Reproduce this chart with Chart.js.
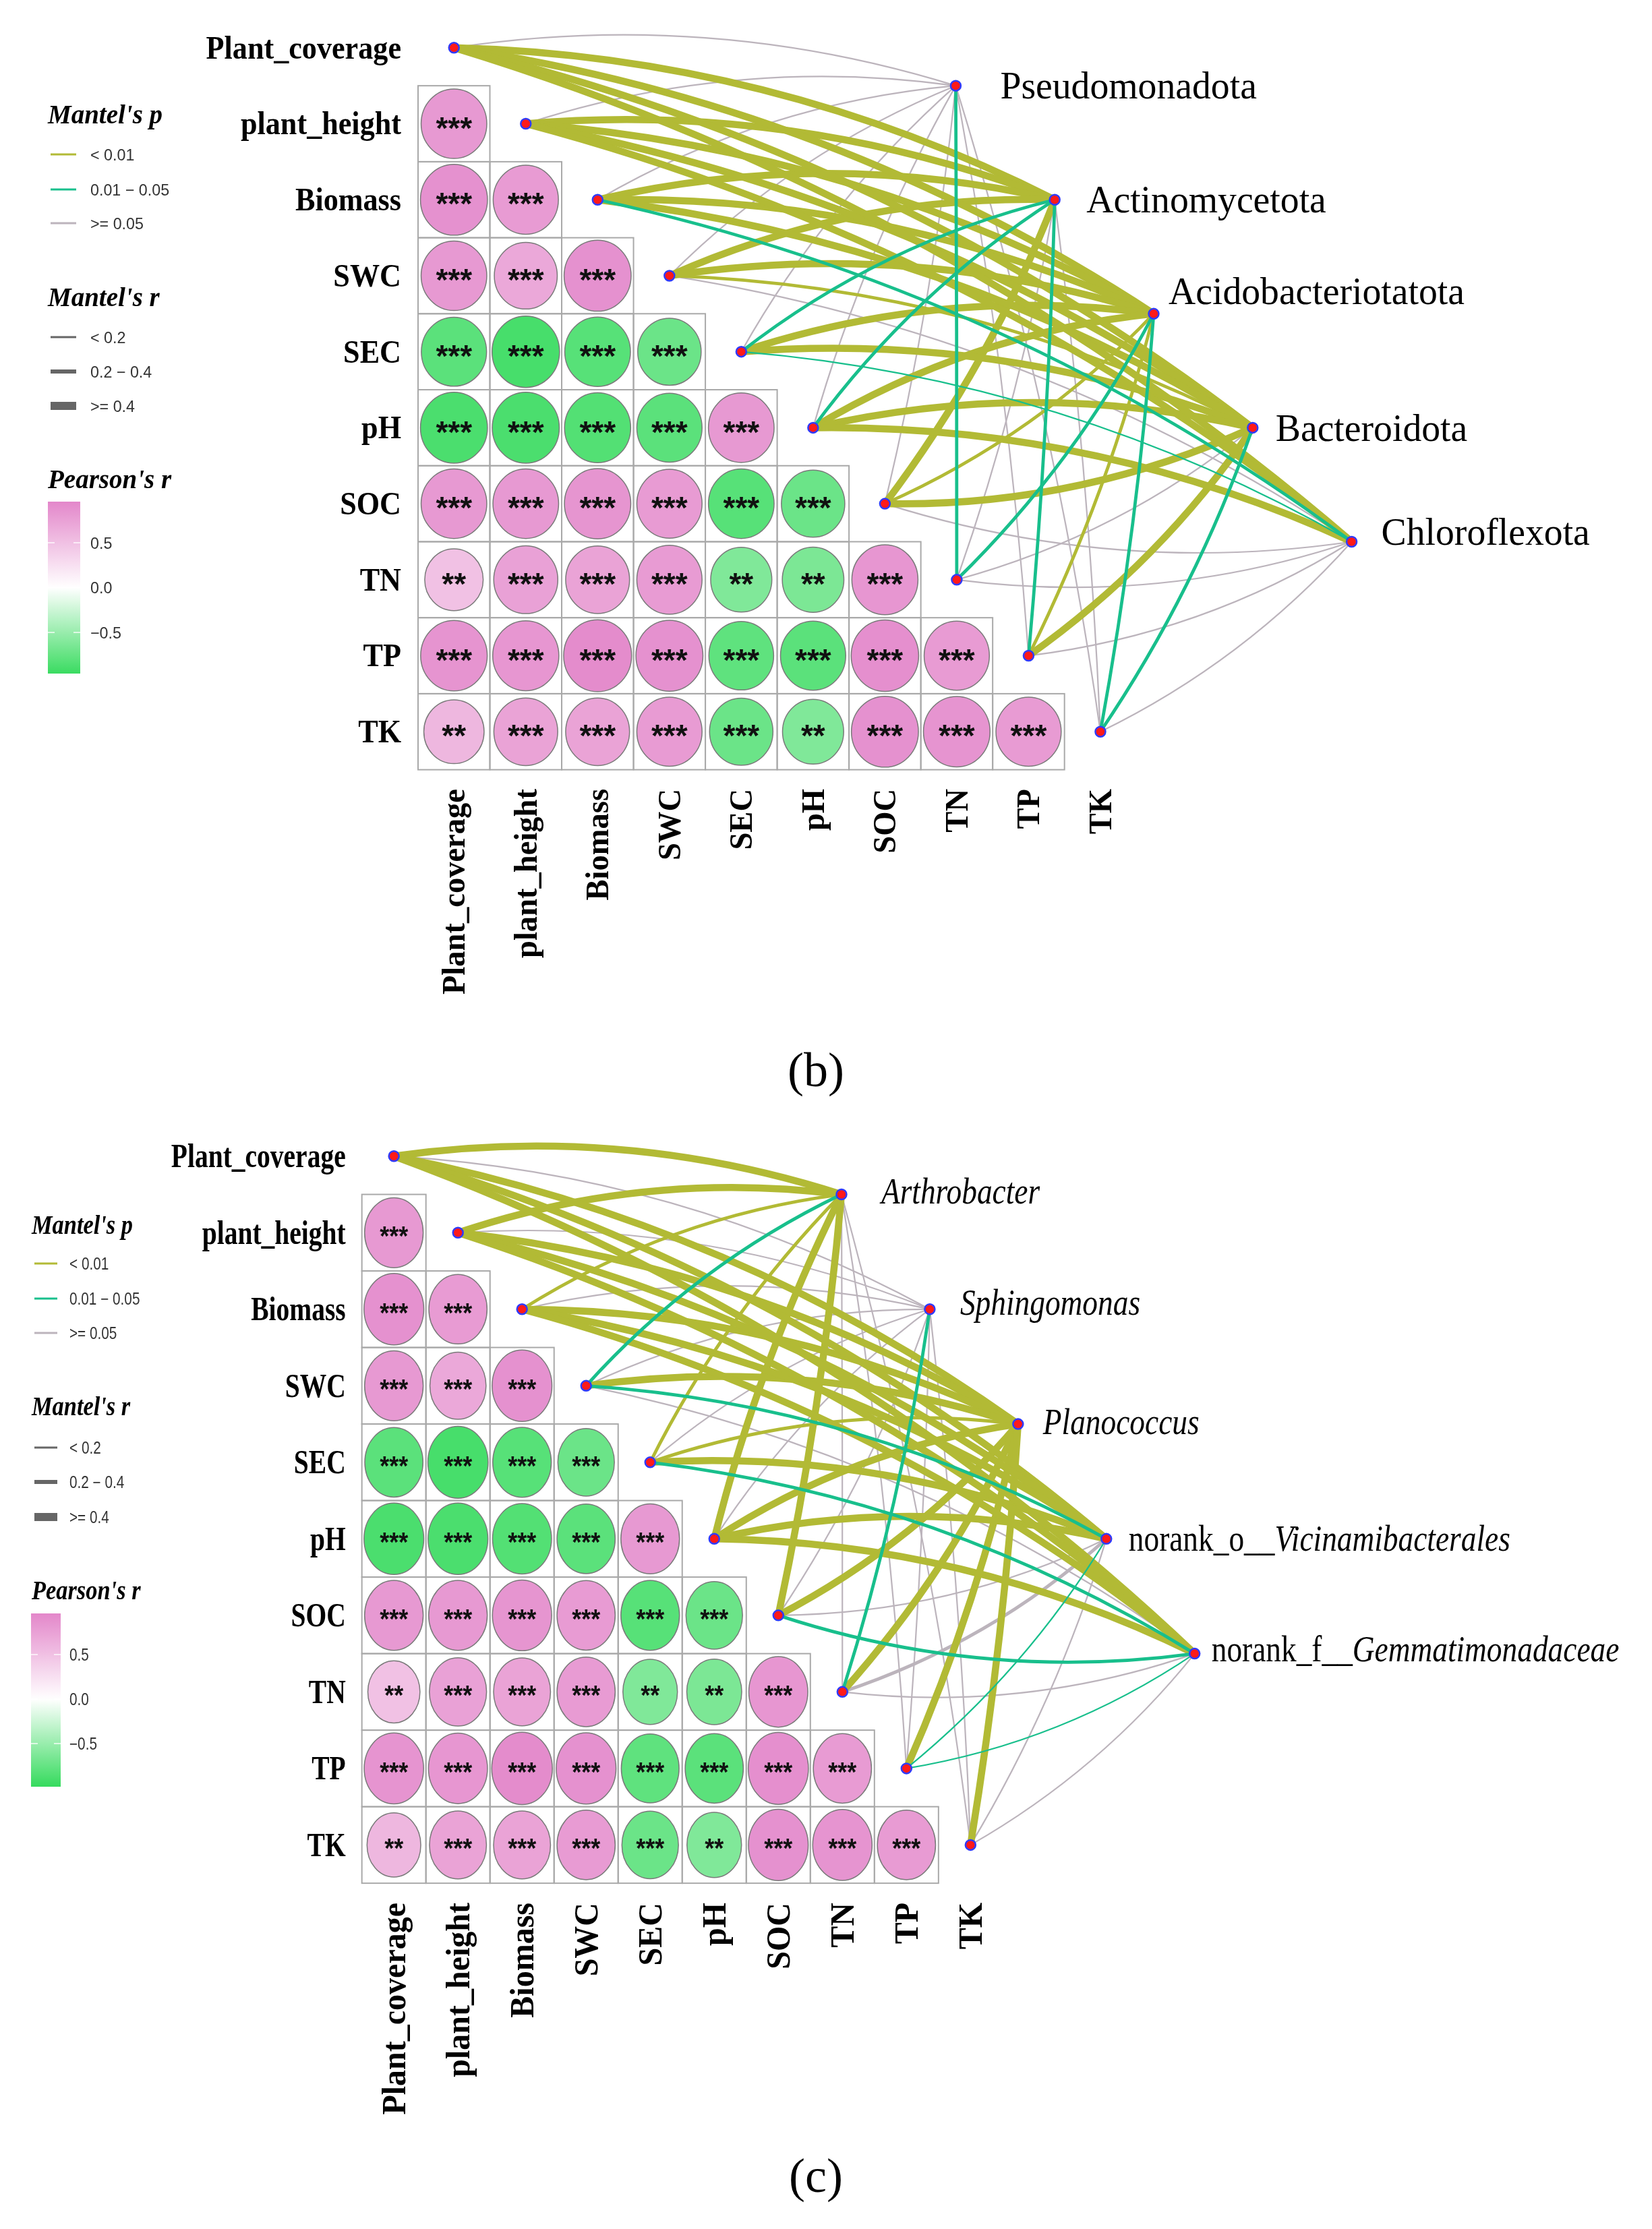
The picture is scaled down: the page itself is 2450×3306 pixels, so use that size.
<!DOCTYPE html>
<html><head><meta charset="utf-8">
<script src="https://cdn.jsdelivr.net/npm/chart.js@4.4.1/dist/chart.umd.min.js"></script>
<style>
html,body{margin:0;padding:0;background:#fff;}
#wrap{position:relative;width:2450px;height:3306px;background:#fff;}
canvas{position:absolute;left:0;}
</style></head><body>
<div id="wrap">
<canvas id="c1" width="2450" height="1650" style="top:0px;width:2450px;height:1650px"></canvas>
<canvas id="c2" width="2450" height="1656" style="top:1650px;width:2450px;height:1656px"></canvas>
</div>
<script>
// ---------------- DATA ----------------
const envVars = ['Plant_coverage','plant_height','Biomass','SWC','SEC','pH','SOC','TN','TP','TK'];
const taxaB = ['Pseudomonadota','Actinomycetota','Acidobacteriotatota','Bacteroidota','Chloroflexota'];
const taxaC = ['Arthrobacter','Sphingomonas','Planococcus','norank_o__Vicinamibacterales','norank_f__Gemmatimonadaceae'];

// Pearson's r, lower triangle (row i has i values: columns 0..i-1)
const pearsonR = [
  [],
  [0.82],
  [0.88, 0.80],
  [0.82, 0.70, 0.88],
  [-0.80, -0.90, -0.82, -0.72],
  [-0.88, -0.88, -0.84, -0.80, 0.82],
  [0.82, 0.82, 0.85, 0.80, -0.82, -0.72],
  [0.50, 0.75, 0.74, 0.80, -0.62, -0.64, 0.84],
  [0.86, 0.84, 0.92, 0.88, -0.78, -0.80, 0.90, 0.80],
  [0.58, 0.74, 0.74, 0.80, -0.72, -0.62, 0.88, 0.86, 0.80]
];
const pearsonSig = [
  [],
  ['***'],
  ['***','***'],
  ['***','***','***'],
  ['***','***','***','***'],
  ['***','***','***','***','***'],
  ['***','***','***','***','***','***'],
  ['**','***','***','***','**','**','***'],
  ['***','***','***','***','***','***','***','***'],
  ['**','***','***','***','***','**','***','***','***']
];

// Mantel test results, panel (b): [taxon][env]
const mantelR_B = [
  [0.12,0.10,0.14,0.11,0.09,0.13,0.15,0.28,0.12,0.08],
  [0.52,0.50,0.48,0.45,0.26,0.30,0.47,0.15,0.28,0.12],
  [0.55,0.53,0.50,0.48,0.45,0.47,0.35,0.27,0.33,0.25],
  [0.58,0.55,0.52,0.36,0.46,0.50,0.49,0.14,0.44,0.29],
  [0.50,0.47,0.30,0.13,0.18,0.45,0.11,0.10,0.12,0.09]
];
const mantelP_B = [
  [0.21,0.30,0.15,0.25,0.40,0.18,0.12,0.03,0.20,0.35],
  [0.001,0.001,0.001,0.002,0.02,0.03,0.001,0.12,0.04,0.20],
  [0.001,0.001,0.001,0.001,0.002,0.001,0.005,0.02,0.006,0.03],
  [0.001,0.001,0.001,0.004,0.001,0.001,0.001,0.09,0.001,0.02],
  [0.001,0.001,0.03,0.15,0.04,0.002,0.20,0.30,0.25,0.40]
];
// Mantel test results, panel (c): [taxon][env]
const mantelR_C = [
  [0.52,0.48,0.32,0.28,0.30,0.50,0.45,0.12,0.10,0.09],
  [0.10,0.12,0.11,0.13,0.09,0.14,0.12,0.24,0.10,0.08],
  [0.55,0.52,0.50,0.47,0.35,0.53,0.48,0.45,0.46,0.44],
  [0.50,0.48,0.46,0.30,0.42,0.49,0.12,0.25,0.16,0.10],
  [0.56,0.52,0.49,0.14,0.30,0.51,0.27,0.11,0.17,0.09]
];
const mantelP_C = [
  [0.001,0.001,0.004,0.03,0.006,0.001,0.002,0.15,0.22,0.30],
  [0.20,0.30,0.25,0.18,0.40,0.15,0.22,0.04,0.35,0.50],
  [0.001,0.001,0.001,0.001,0.005,0.001,0.001,0.002,0.001,0.003],
  [0.001,0.001,0.001,0.03,0.002,0.001,0.20,0.08,0.04,0.30],
  [0.001,0.001,0.001,0.12,0.02,0.001,0.03,0.25,0.04,0.35]
];

const mantelPLabels = ['< 0.01', '0.01 \u2212 0.05', '>= 0.05'];
const mantelRLabels = ['< 0.2', '0.2 \u2212 0.4', '>= 0.4'];
const pearsonTicks = [0.5, 0.0, -0.5];
const pearsonTickLabels = ['0.5', '0.0', '\u22120.5'];

// ---------------- STYLE ----------------
const OLIVE = '#B2BA35', TEAL = '#18BF8C', GRAY = '#BCB4BC';
const LINE_COL = [OLIVE, TEAL, GRAY];
const LINE_W = [2.2, 4.8, 10.5];
const SERIF = '"Liberation Serif", "Times New Roman", serif';
const SANS = '"Liberation Sans", Arial, sans-serif';

function pClass(p){ return p < 0.01 ? 0 : (p < 0.05 ? 1 : 2); }
function rClass(r){ return r < 0.2 ? 0 : (r < 0.4 ? 1 : 2); }
function pearsonColor(r){
  const t = Math.min(1, Math.abs(r));
  const e = r >= 0 ? [226,130,200] : [50,218,90];
  return 'rgb(' + e.map(c => Math.round(255 + (c - 255) * t)).join(',') + ')';
}

function drawText(ctx, parts, x, y, o){
  o = o || {};
  ctx.save();
  ctx.translate(x, y);
  if (o.rot) ctx.rotate(o.rot);
  ctx.scale(o.k || 1, 1);
  ctx.fillStyle = o.color || '#000';
  ctx.textBaseline = 'alphabetic';
  ctx.textAlign = 'left';
  let total = 0;
  parts.forEach(p => { ctx.font = p.font; total += ctx.measureText(p.t).width; });
  let cx = o.align === 'right' ? -total : (o.align === 'center' ? -total / 2 : 0);
  parts.forEach(p => { ctx.font = p.font; ctx.fillText(p.t, cx, o.dy || 0); cx += ctx.measureText(p.t).width; });
  ctx.restore();
}

function drawLegend(ctx, L){
  const titleFont = 'bold italic ' + L.tf + 'px ' + SERIF;
  const itemFont = L.if + 'px ' + SANS;
  const ttl = (s, y) => drawText(ctx, [{t:s, font:titleFont}], L.tx, y, {k:L.tk, dy:0.33*L.tf});
  const item = (s, y) => drawText(ctx, [{t:s, font:itemFont}], L.ix, y, {k:L.ik, dy:0.36*L.if, color:'#333'});
  ttl("Mantel's p", L.pTitle);
  L.pItems.forEach((y, i) => {
    ctx.strokeStyle = LINE_COL[i]; ctx.lineWidth = 3;
    ctx.beginPath(); ctx.moveTo(L.lx0, y); ctx.lineTo(L.lx1, y); ctx.stroke();
    item(mantelPLabels[i], y);
  });
  ttl("Mantel's r", L.rTitle);
  const lw = [3, 6, 12];
  L.rItems.forEach((y, i) => {
    ctx.strokeStyle = '#666'; ctx.lineWidth = lw[i];
    ctx.beginPath(); ctx.moveTo(L.lx0, y); ctx.lineTo(L.lx1, y); ctx.stroke();
    item(mantelRLabels[i], y);
  });
  ttl("Pearson's r", L.cTitle);
  // colour bar
  const g = ctx.createLinearGradient(0, L.by0, 0, L.by1);
  const vTop = (L.zero - L.by0) / L.ppu, vBot = (L.zero - L.by1) / L.ppu;
  for (let s = 0; s <= 40; s++){
    const f = s / 40;
    g.addColorStop(f, pearsonColor(vTop + (vBot - vTop) * f));
  }
  ctx.fillStyle = g;
  ctx.fillRect(L.bx0, L.by0, L.bx1 - L.bx0, L.by1 - L.by0);
  pearsonTicks.forEach((v, i) => {
    const y = L.zero - v * L.ppu;
    ctx.strokeStyle = 'rgba(255,255,255,0.9)'; ctx.lineWidth = 1.5;
    ctx.beginPath(); ctx.moveTo(L.bx0, y); ctx.lineTo(L.bx0 + 10, y);
    ctx.moveTo(L.bx1 - 10, y); ctx.lineTo(L.bx1, y); ctx.stroke();
    item(pearsonTickLabels[i], y);
  });
}

function makePanel(canvasId, cfg){
  const el = document.getElementById(canvasId);
  const W = 2450, H = cfg.H;
  const xmin = -cfg.x0 / cfg.cw, xmax = (W - cfg.x0) / cfg.cw;
  const ymin = -cfg.y0 / cfg.rh, ymax = (H - cfg.y0) / cfg.rh;
  const envPos = envVars.map((e, i) => ({x: i + 0.5, y: i + 0.5}));
  const taxaPos = cfg.taxa.map((t, j) => ({x: 7.486 + 1.378 * j, y: 1.0 + 1.5 * j}));

  const plugin = {
    id: 'mantelPanel' + canvasId,
    beforeDatasetsDraw(chart){
      const ctx = chart.ctx, xs = chart.scales.x, ys = chart.scales.y;
      ctx.save();
      // heatmap cells
      for (let i = 1; i < envVars.length; i++){
        for (let j = 0; j < i; j++){
          const x1 = xs.getPixelForValue(j), x2 = xs.getPixelForValue(j + 1);
          const y1 = ys.getPixelForValue(i), y2 = ys.getPixelForValue(i + 1);
          ctx.strokeStyle = '#A9A9A9'; ctx.lineWidth = 2;
          ctx.strokeRect(x1, y1, x2 - x1, y2 - y1);
          const r = pearsonR[i][j];
          const f = 0.657 + 0.314 * Math.abs(r);
          const cx = (x1 + x2) / 2, cy = (y1 + y2) / 2;
          ctx.beginPath();
          ctx.ellipse(cx, cy, (x2 - x1) / 2 * f, (y2 - y1) / 2 * f, 0, 0, Math.PI * 2);
          ctx.fillStyle = pearsonColor(r); ctx.fill();
          ctx.strokeStyle = '#7A7A7A'; ctx.lineWidth = 1.5; ctx.stroke();
          drawText(ctx, [{t: pearsonSig[i][j], font: 'bold ' + cfg.starF + 'px ' + SANS}], cx, cy - 4,
                   {align: 'center', k: cfg.starK, dy: 0.57 * cfg.starF, color: '#111'});
        }
      }
      // links
      const links = [];
      for (let t = 0; t < cfg.taxa.length; t++){
        for (let e = 0; e < envVars.length; e++){
          links.push({t, e, pc: pClass(cfg.mP[t][e]), rc: rClass(cfg.mR[t][e])});
        }
      }
      const order = [2, 0, 1];
      order.forEach(pc => {
        links.filter(l => l.pc === pc).sort((a, b) => a.rc - b.rc).forEach(l => {
          const ax = xs.getPixelForValue(envPos[l.e].x), ay = ys.getPixelForValue(envPos[l.e].y);
          const bx = xs.getPixelForValue(taxaPos[l.t].x), by = ys.getPixelForValue(taxaPos[l.t].y);
          const dx = bx - ax, dy = by - ay, L = Math.hypot(dx, dy);
          const side = l.e <= 5 ? 1 : -1;
          const nx = side * dy / L, ny = side * -dx / L;
          const c = 0.115 * L * Math.pow(Math.abs(dx) / L, 0.7);
          const qx = (ax + bx) / 2 + nx * c, qy = (ay + by) / 2 + ny * c;
          ctx.strokeStyle = LINE_COL[l.pc];
          ctx.lineWidth = LINE_W[l.rc];
          ctx.lineCap = 'butt';
          ctx.beginPath(); ctx.moveTo(ax, ay); ctx.quadraticCurveTo(qx, qy, bx, by); ctx.stroke();
        });
      });
      ctx.restore();
    },
    afterDraw(chart){
      const ctx = chart.ctx, xs = chart.scales.x, ys = chart.scales.y;
      ctx.save();
      const lf = 'bold ' + cfg.labF + 'px ' + SERIF;
      // row labels
      envVars.forEach((v, i) => {
        drawText(ctx, [{t: v, font: lf}], xs.getPixelForValue(0) - cfg.rowGap, ys.getPixelForValue(i + 0.5),
                 {align: 'right', k: cfg.labK, dy: 0.33 * cfg.labF});
      });
      // column labels (rotated)
      envVars.forEach((v, i) => {
        drawText(ctx, [{t: v, font: lf}], xs.getPixelForValue(i + 0.5), cfg.colEnd,
                 {align: 'right', rot: -Math.PI / 2, k: cfg.colK, dy: 0.33 * cfg.labF});
      });
      // taxa labels
      cfg.taxa.forEach((t, j) => {
        const px = xs.getPixelForValue(taxaPos[j].x) + cfg.taxOff[j][0];
        const py = ys.getPixelForValue(taxaPos[j].y) + cfg.taxOff[j][1];
        const m = t.match(/^(norank_[a-z]__)(.*)$/);
        const parts = m ? [{t: m[1], font: cfg.taxF + 'px ' + SERIF}, {t: m[2], font: 'italic ' + cfg.taxF + 'px ' + SERIF}]
                        : [{t: t, font: (cfg.italic ? 'italic ' : '') + cfg.taxF + 'px ' + SERIF}];
        drawText(ctx, parts, px, py, {k: cfg.taxK, dy: 0.33 * cfg.taxF});
      });
      // panel tag
      drawText(ctx, [{t: cfg.tag, font: '72px ' + SERIF}], 1210, cfg.tagY, {align: 'center', dy: 0.26 * 72});
      drawLegend(ctx, cfg.legend);
      ctx.restore();
    }
  };

  return new Chart(el, {
    type: 'scatter',
    data: {datasets: [{
      data: envPos.concat(taxaPos),
      pointRadius: 7.5, pointHoverRadius: 7.5,
      pointBackgroundColor: '#FF1A1A', pointBorderColor: '#2F3BFF', pointBorderWidth: 2.5,
      clip: false
    }]},
    options: {
      responsive: false, animation: false, devicePixelRatio: 1,
      layout: {padding: 0},
      events: [],
      plugins: {legend: {display: false}, tooltip: {enabled: false}, title: {display: false}},
      scales: {
        x: {type: 'linear', min: xmin, max: xmax, display: false},
        y: {type: 'linear', min: ymin, max: ymax, reverse: true, display: false}
      }
    },
    plugins: [plugin]
  });
}

makePanel('c1', {
  H: 1650, x0: 615, cw: 107.4, y0: 4.5, rh: 114.1,
  taxa: taxaB, mR: mantelR_B, mP: mantelP_B, italic: false,
  starF: 46, starK: 1.0,
  labF: 48, labK: 0.92, colK: 0.97, rowGap: 25, colEnd: 1170,
  taxF: 58, taxK: 0.96,
  taxOff: [[66, 0], [47, 0], [22, -33], [34, 0], [44, -15]],
  tag: '(b)', tagY: 1592,
  legend: {tx: 71, tf: 40, tk: 0.975, ix: 134, if: 24, ik: 0.97, lx0: 75, lx1: 113,
           pTitle: 170, pItems: [229, 281, 331], rTitle: 441, rItems: [500, 551, 602], cTitle: 711,
           bx0: 71, bx1: 119, by0: 744, by1: 999, zero: 871.5, ppu: 133}
});

makePanel('c2', {
  H: 1656, x0: 531, cw: 95.8, y0: -2, rh: 114.9,
  taxa: taxaC, mR: mantelR_C, mP: mantelP_C, italic: true,
  starF: 40, starK: 0.9,
  labF: 50, labK: 0.79, colK: 0.96, rowGap: 24, colEnd: 2822 - 1650,
  taxF: 54, taxK: 0.84,
  taxOff: [[59, -4], [45, -10], [37, -3], [33, 0], [25, -6]],
  tag: '(c)', tagY: 3232 - 1650,
  legend: {tx: 47, tf: 40, tk: 0.86, ix: 103, if: 25, ik: 0.83, lx0: 51, lx1: 85,
           pTitle: 1817 - 1650, pItems: [1874 - 1650, 1926 - 1650, 1977 - 1650],
           rTitle: 2086 - 1650, rItems: [2147 - 1650, 2198 - 1650, 2250 - 1650], cTitle: 2359 - 1650,
           bx0: 46, bx1: 90, by0: 2393 - 1650, by1: 2650 - 1650, zero: 2520 - 1650, ppu: 132}
});
</script>
</body></html>
